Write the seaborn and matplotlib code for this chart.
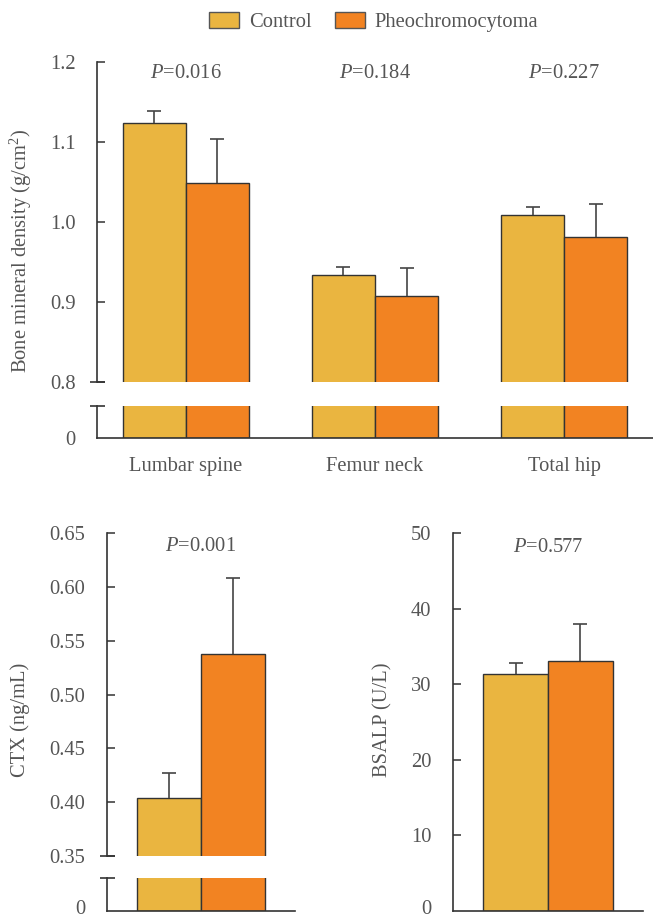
import numpy as np
import pandas as pd
import seaborn as sns
import matplotlib.pyplot as plt
from matplotlib.patches import Patch
from matplotlib.transforms import ScaledTranslation

# data
groups = ["Control", "Pheochromocytoma"]
sites = ["Lumbar spine", "Femur neck", "Total hip"]
bmd_control = [1.124, 0.934, 1.009]
bmd_control_err = [0.015, 0.010, 0.010]
bmd_pheo = [1.049, 0.908, 0.981]
bmd_pheo_err = [0.055, 0.035, 0.041]
bmd_p = ["0.016", "0.184", "0.227"]

ctx = [0.404, 0.538]
ctx_err = [0.023, 0.070]
ctx_p = "0.001"

bsalp = [31.3, 33.1]
bsalp_err = [1.5, 4.9]
bsalp_p = "0.577"

colors = ["#EAB540", "#F28322"]
text_col = "#555555"
spine_col = "#333333"

sns.set_style("ticks")
plt.rcParams["font.family"] = ["Liberation Serif", "DejaVu Serif"]
plt.rcParams["mathtext.fontset"] = "custom"
plt.rcParams["mathtext.rm"] = "Liberation Serif"
plt.rcParams["mathtext.it"] = "Liberation Serif:italic"
plt.rcParams["font.size"] = 14.8

bmd_df = pd.DataFrame({
    "site": sites * 2,
    "group": [groups[0]] * 3 + [groups[1]] * 3,
    "value": bmd_control + bmd_pheo,
    "err": bmd_control_err + bmd_pheo_err,
})
ctx_df = pd.DataFrame({"site": ["CTX"] * 2, "group": groups, "value": ctx, "err": ctx_err})
bsalp_df = pd.DataFrame({"site": ["BSALP"] * 2, "group": groups, "value": bsalp, "err": bsalp_err})

W, H = 653, 918
fig = plt.figure(figsize=(W / 100, H / 100), dpi=100)


def add_ax(x0, x1, y0, y1):
    return fig.add_axes([x0 / W, 1 - y1 / H, (x1 - x0) / W, (y1 - y0) / H])


def bars(ax, df, errs=True):
    sns.barplot(data=df, x="site", y="value", hue="group", hue_order=groups,
                palette=colors, saturation=1, width=0.667, edgecolor="#333333",
                linewidth=1, legend=False, ax=ax, errorbar=None)
    if errs:
        conts = list(ax.containers)
        for i, cont in enumerate(conts):
            sub = df[df["group"] == groups[i]]
            xs = [p.get_x() + p.get_width() / 2 for p in cont.patches]
            ys = [p.get_height() for p in cont.patches]
            eb = ax.errorbar(xs, ys, yerr=[np.zeros(len(sub)), sub["err"].values],
                             fmt="none", ecolor="#444444", elinewidth=1.2,
                             capsize=5, capthick=1.2, zorder=5)
            eb[1][0].set_visible(False)


def style(ax):
    sns.despine(ax=ax)
    for s in ["left", "bottom"]:
        ax.spines[s].set_color(spine_col)
        ax.spines[s].set_linewidth(1.2)
    ax.tick_params(axis="y", direction="in", length=6, width=1.1,
                   color=spine_col, labelcolor=text_col, pad=15.5)
    ax.tick_params(axis="x", length=0, labelcolor=text_col)
    ax.set_xlabel("")
    ax.set_ylabel("")


def break_mark(ax, y, half_px):
    w = half_px / (ax.get_position().width * W)
    ax.plot([-w, w], [y, y], transform=ax.transAxes, color=spine_col,
            lw=1.2, clip_on=False, solid_capstyle="butt")


def zero_only(ax):
    ax.set_yticks([0])
    ax.set_yticklabels(["0"])
    ax.yaxis.get_major_ticks()[0].tick1line.set_visible(False)


def lift_zero(ax, px):
    lab = ax.yaxis.get_major_ticks()[0].label1
    lab.set_transform(lab.get_transform() + ScaledTranslation(0, px / 100, fig.dpi_scale_trans))


# ---- top panel: BMD with broken axis
ax1 = add_ax(97, 653, 62, 382)
ax1b = add_ax(97, 653, 406, 438)
bars(ax1, bmd_df)
bars(ax1b, bmd_df, errs=False)
for a in (ax1, ax1b):
    style(a)
    a.set_xlim(-0.47, 2.47)
ax1.set_ylim(0.8, 1.2)
ax1.set_yticks([0.8, 0.9, 1.0, 1.1, 1.2])
ax1.set_yticklabels(["0.8", "0.9", "1.0", "1.1", "1.2"])
ax1.spines["bottom"].set_visible(False)
ax1.set_xticks([])
break_mark(ax1, 0, 7.5)
ax1b.set_ylim(0, 0.5)
zero_only(ax1b)
break_mark(ax1b, 1, 7.5)
ax1b.tick_params(axis="x", pad=14)
for i, p in enumerate(bmd_p):
    ax1.text(i, 1.186, f"$P$=" + p, ha="center", va="center", color=text_col)
fig.text(21 / W, 1 - 251 / H, "Bone mineral density (g/cm$^2$)", rotation=90,
         ha="center", va="center", color=text_col)

# ---- bottom left: CTX with broken axis
ax2 = add_ax(107, 295, 533, 856)
ax2b = add_ax(107, 295, 878, 911)
bars(ax2, ctx_df)
bars(ax2b, ctx_df, errs=False)
for a in (ax2, ax2b):
    style(a)
    a.set_xlim(-0.49, 0.49)
    a.set_xticks([])
ax2.set_ylim(0.35, 0.65)
ax2.set_yticks([0.35, 0.40, 0.45, 0.50, 0.55, 0.60, 0.65])
ax2.set_yticklabels(["0.35", "0.40", "0.45", "0.50", "0.55", "0.60", "0.65"])
ax2.spines["bottom"].set_visible(False)
break_mark(ax2, 0, 7.5)
ax2b.set_ylim(0, 0.3)
zero_only(ax2b)
lift_zero(ax2b, 4)
break_mark(ax2b, 1, 7.5)
ax2.text(0, 0.637, f"$P$=" + ctx_p, ha="center", va="center", color=text_col)
fig.text(20 / W, 1 - 720 / H, "CTX (ng/mL)", rotation=90,
         ha="center", va="center", color=text_col)

# ---- bottom right: BSALP
ax3 = add_ax(453, 643, 533, 911)
bars(ax3, bsalp_df)
style(ax3)
ax3.set_xlim(-0.49, 0.49)
ax3.set_xticks([])
ax3.set_ylim(0, 50)
ax3.set_yticks([0, 10, 20, 30, 40, 50])
ax3.yaxis.get_major_ticks()[0].tick1line.set_visible(False)
lift_zero(ax3, 4)
ax3.text(0, 48.1, f"$P$=" + bsalp_p, ha="center", va="center", color=text_col)
fig.text(383 / W, 1 - 720 / H, "BSALP (U/L)", rotation=90,
         ha="center", va="center", color=text_col)

# legend
handles = [Patch(facecolor=c, edgecolor="#555555", linewidth=1) for c in colors]
fig.legend(handles, groups, loc="center", bbox_to_anchor=(374 / W, 1 - 22 / H),
           ncol=2, frameon=False, handlelength=1.45, handleheight=0.85,
           columnspacing=1.1, handletextpad=0.5, labelcolor=text_col)

fig.savefig("out.png", dpi=100)
